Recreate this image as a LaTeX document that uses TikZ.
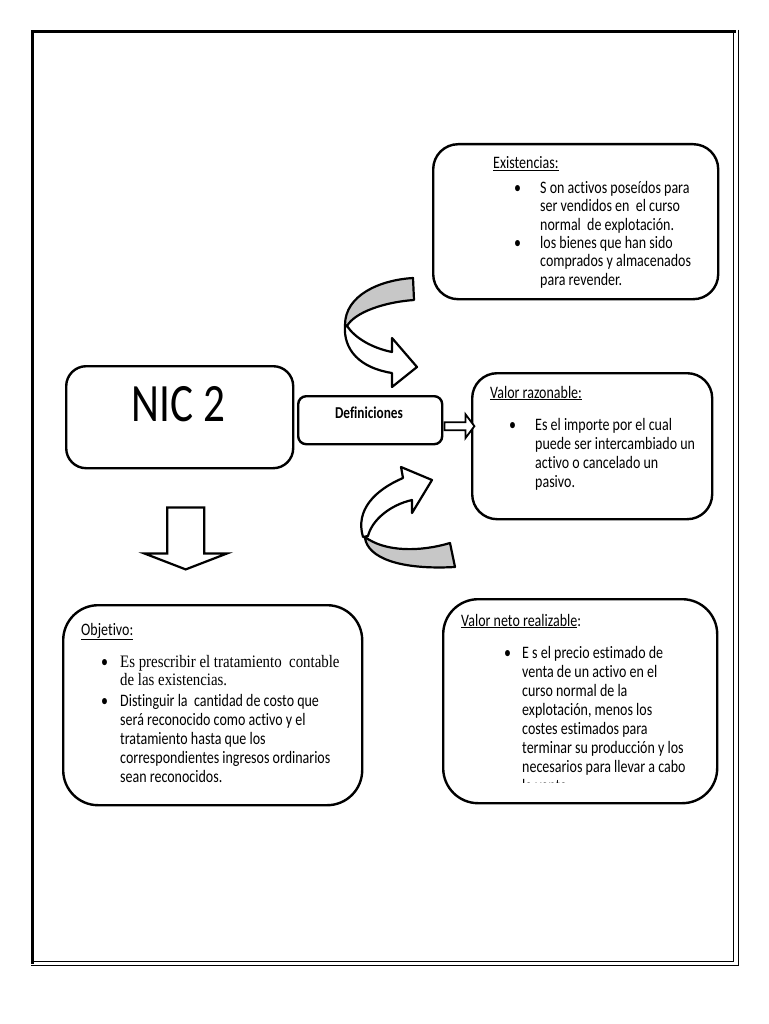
\documentclass[tikz,border=0pt]{standalone}
\usepackage{fontspec}
\setmainfont{Carlito}[FakeStretch=0.8, Ligatures=NoCommon]
\newfontfamily\cambria{Liberation Serif}[FakeStretch=0.85, Ligatures=NoCommon]
\usetikzlibrary{calc}
\begin{document}
\begin{tikzpicture}[x=1pt,y=-1pt,
  box/.style={draw, line width=2.4pt, fill=white, anchor=north west, inner sep=0pt},
  txt/.style={anchor=north west, inner sep=0pt, align=left, font=\fontsize{17.5}{19}\selectfont},
  hdr/.style={anchor=base west, inner sep=0pt, font=\fontsize{17.5}{19}\selectfont},
  ribbon/.style={draw, line width=2.2pt, line join=round},
  blockarrow/.style={draw, line width=2.2pt, fill=white, line join=miter},
]
\useasboundingbox (0,0) rectangle (768,1024);
% page frame
\draw[line width=3pt] (32,964) -- (32,32) -- (736,32);
\draw[line width=1pt] (733,33) -- (733,961) -- (33,961);
\draw[line width=1pt] (738,30) -- (738,965) -- (31,965);

% boxes
\node[box, rounded corners=25pt, minimum width=285, minimum height=155] (exist) at (432,143) {};
\node[box, rounded corners=20pt, minimum width=227, minimum height=102] (nic) at (65,365) {};
\node[box, rounded corners=8pt, minimum width=144, minimum height=48] (defs) at (297,395) {};
\node[box, rounded corners=25pt, minimum width=240, minimum height=146] (valraz) at (471,372) {};
\node[box, rounded corners=35pt, minimum width=299, minimum height=200] (obj) at (62,604) {};
\node[box, rounded corners=35pt, minimum width=274, minimum height=204] (vnr) at (442,598) {};

% NIC 2 and Definiciones
\node[anchor=base, inner sep=0pt, font=\fontsize{54}{60}\selectfont] (nictext) at (178.5,421) {NIC 2};
\node[anchor=base, inner sep=0pt, font=\fontsize{16.6}{19}\selectfont\bfseries] (defstext) at (369,418) {Definiciones};

% Existencias
\node[hdr] (exhdr) at (493,169) {\underline{Existencias:}};
\node[txt, font=\fontsize{17.5}{18.7}\selectfont] (ex1) at (540,177) {\rule{0pt}{16pt}\llap{\textbullet\hspace{19pt}}S on activos poseídos para\\ser vendidos en\ \ el curso\\normal\ \ de explotación.};
\node[txt, font=\fontsize{17.5}{18.7}\selectfont] (ex2) at (540,232) {\rule{0pt}{16pt}\llap{\textbullet\hspace{19pt}}los bienes que han sido\\comprados y almacenados\\para revender.};

% Valor razonable
\node[hdr] (vrhdr) at (490,398) {\underline{Valor razonable:}};
\node[txt] (vr1) at (535,414) {\rule{0pt}{16pt}\llap{\textbullet\hspace{19pt}}Es el importe por el cual\\puede ser intercambiado un\\activo o cancelado un\\pasivo.};

% Objetivo
\node[hdr] (obhdr) at (81,635) {\underline{Objetivo:}};
\node[txt, font=\fontsize{17.5}{18.5}\cambria] (ob1) at (120,651) {\rule{0pt}{16pt}\llap{\fontsize{17.5}{18.5}\rmfamily\textbullet\hspace{12pt}}Es prescribir el tratamiento\ \ contable\\de las existencias.};
\node[txt] (ob2) at (120,690) {\rule{0pt}{16pt}\llap{\textbullet\hspace{12pt}}Distinguir la\ \ cantidad de costo que\\será reconocido como activo y el\\tratamiento hasta que los\\correspondientes ingresos ordinarios\\sean reconocidos.};

% Valor neto realizable
\node[hdr] (vnhdr) at (461,626) {\underline{Valor neto realizable}:};
\begin{scope}
\clip (443,599) rectangle (716,782);
\node[txt] (vn1) at (522,642) {\rule{0pt}{16pt}\llap{\textbullet\hspace{11pt}}E s el precio estimado de\\venta de un activo en el\\curso normal de la\\explotación, menos los\\costes estimados para\\terminar su producción y los\\necesarios para llevar a cabo\\la venta.};
\end{scope}

% small block arrow Definiciones -> Valor razonable
\draw[blockarrow, line width=1.8pt] ($(defs.east)+(1,2)$) -- ++(21,0) -- ++(0,-8) -- ++(9,12) -- ++(-9,12) -- ++(0,-8) -- ++(-21,0) -- cycle;

% down block arrow NIC 2 -> Objetivo
\draw[blockarrow] ($(nic.south)+(-12.5,38)$) -- ++(37,0) -- ++(0,46) -- ++(23,0) -- ++(-41.5,16) -- ++(-41.5,-16) -- ++(23,0) -- cycle;

% top curved ribbon arrow
\fill[black!22] (413,278) .. controls (380,280) and (345,295) .. (345,325) -- (347,326) .. controls (355,312) and (385,302) .. (414,300) -- cycle;
\draw[ribbon] (413,278) .. controls (380,280) and (345,295) .. (345,325) -- (347,326) .. controls (355,312) and (385,302) .. (414,300) -- cycle;
\draw[ribbon, fill=white] (345,325) .. controls (343,350) and (360,368) .. (392,373) -- (392,387) -- (417,367) -- (392,338) -- (392,352) .. controls (372,348) and (355,338) .. (347,326) -- cycle;

% bottom curved ribbon arrow
\fill[black!22] (365,537) .. controls (385,552) and (420,552) .. (450,543) -- (455,567) .. controls (400,570) and (368,558) .. (365,538) -- cycle;
\draw[ribbon] (365,537) .. controls (385,552) and (420,552) .. (450,543) -- (455,567) .. controls (400,570) and (368,558) .. (365,538) -- cycle;
\draw[ribbon, fill=white] (363,537) .. controls (355,510) and (375,490) .. (403,478) -- (401,467) -- (432,480) -- (412,513) -- (412,500) .. controls (390,505) and (372,520) .. (368,536) -- cycle;
\end{tikzpicture}
\end{document}
